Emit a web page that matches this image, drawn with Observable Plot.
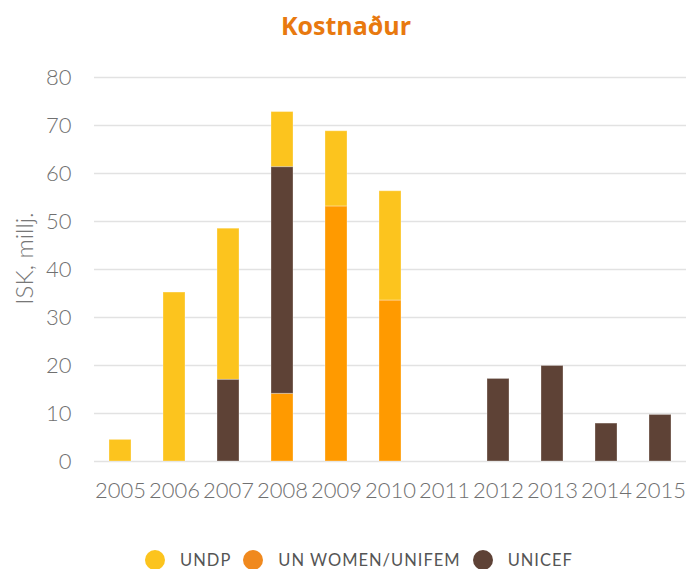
<!DOCTYPE html>
<html>
<head>
<meta charset="utf-8">
<script src="https://cdn.jsdelivr.net/npm/d3@7"></script>
<script src="https://cdn.jsdelivr.net/npm/@observablehq/plot@0.6"></script>
<style>
  body { margin: 0; background: #fff; width: 686px; height: 569px; overflow: hidden; }
  #title { height: 50px; line-height: 50px; text-align: center; font-family: "Open Sans", sans-serif; font-weight: 700; font-size: 25px; color: #E8790F; padding-left: 6px; }
  #legend { display: flex; justify-content: center; align-items: center; margin-top: 30px; padding-left: 32px; font-family: Lato, sans-serif; font-size: 16.5px; color: #555; letter-spacing: 1px; }
  .sw { display: inline-block; width: 20px; height: 20px; border-radius: 50%; margin: 0 15px 0 0; }
  .item { display: flex; align-items: center; margin: 0 6px; }
</style>
</head>
<body>
<div id="title">Kostnaður</div>
<div id="chart"></div>
<div id="legend"></div>
<script>
const years = ["2005","2006","2007","2008","2009","2010","2011","2012","2013","2014","2015"];
const undp    = [4.5, 35.2, 31.5, 11.5, 15.7, 22.8, 0, 0, 0, 0, 0];
const unwomen = [0, 0, 0, 14.1, 53.1, 33.5, 0, 0, 0, 0, 0];
const unicef  = [0, 0, 17.0, 47.2, 0, 0, 0, 17.2, 19.9, 7.9, 9.7];
const seriesNames = ["UNDP", "UN WOMEN/UNIFEM", "UNICEF"];
const barColors = ["#FCC41E", "#FF9A00", "#5E4236"];
const legendColors = ["#FCC41E", "#F0891E", "#5E4236"];
const yTicks = [0, 10, 20, 30, 40, 50, 60, 70, 80];
const yLabel = "ISK, millj.";

const seriesValues = [undp, unwomen, unicef];
const data = [];
seriesNames.forEach((s, i) => years.forEach((yr, j) => data.push({year: yr, series: s, value: seriesValues[i][j]})));

const chart = Plot.plot({
  width: 686,
  height: 470,
  marginLeft: 94,
  marginRight: 0,
  marginTop: 27,
  marginBottom: 59,
  style: { fontFamily: "Lato, sans-serif", fontWeight: 300, fontSize: "22px", color: "#666", background: "white" },
  x: { domain: years, paddingInner: 0.59, paddingOuter: 0.275, align: 0.5, label: null },
  y: { domain: [0, 80], label: null },
  color: { domain: seriesNames, range: barColors },
  marks: [
    Plot.gridY(yTicks, { stroke: "#e2e2e2", strokeOpacity: 1, strokeWidth: 1.6 }),
    Plot.axisY(yTicks, { tickSize: 0, tickPadding: 23, label: null, fontSize: 22, fill: "#707070" }),
    Plot.axisX({ tickSize: 0, tickPadding: 21, label: null, fontSize: 22, fill: "#707070" }),
    Plot.barY(data, Plot.stackY({
      order: ["UN WOMEN/UNIFEM", "UNICEF", "UNDP"],
      x: "year", y: "value", fill: "series",
      stroke: "white", strokeOpacity: 0.3, strokeWidth: 1
    })),
    Plot.text([yLabel], { frameAnchor: "left", text: d => d, rotate: -90, textAnchor: "middle", dx: -69, dy: -11, fontSize: 24, fill: "#777", fontWeight: 300 })
  ]
});
document.getElementById("chart").appendChild(chart);

const leg = document.getElementById("legend");
seriesNames.forEach((s, i) => {
  const it = document.createElement("span");
  it.className = "item";
  const sw = document.createElement("span");
  sw.className = "sw";
  sw.style.background = legendColors[i];
  const t = document.createElement("span");
  t.textContent = s;
  it.appendChild(sw); it.appendChild(t);
  leg.appendChild(it);
});
</script>
</body>
</html>
